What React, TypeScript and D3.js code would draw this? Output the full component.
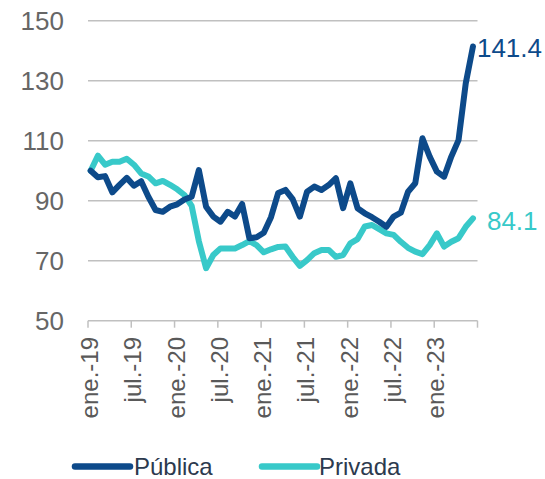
import React from "react";
import * as d3 from "d3";

const publica = [100, 97.8, 98.2, 92.8, 95.3, 97.6, 95, 96.5, 91.3, 86.9,
  86.3, 88, 88.8, 90.4, 91.3, 100.2, 88, 84.7, 83, 86.3,
  84.7, 88.9, 77.5, 77.8, 79.3, 84.5, 92.6, 93.6, 90.5, 84.7,
  93, 94.7, 93.6, 95.2, 97.5, 87.5, 95.8, 87.5, 85.8, 84.5,
  83, 81.3, 84.7, 86, 93, 95.8, 110.8, 104.7, 99.7, 98,
  104.7, 110.2, 129.1, 141.4];
const privada = [100, 105, 102, 103, 103, 104, 102, 99.1, 98.1, 95.8,
  96.6, 95.3, 93.8, 91.9, 88.3, 76.5, 67.5, 71.9, 74.1, 74.1,
  74.1, 75.2, 76.5, 75.2, 72.8, 73.8, 74.6, 74.7, 71.3, 68.3,
  70.2, 72.5, 73.6, 73.6, 71.3, 71.9, 75.8, 77.2, 81.4, 81.9,
  80.5, 79.1, 78.6, 76.3, 74.3, 73, 72.2, 75.2, 79.1, 74.7,
  76.3, 77.5, 81.3, 84.1];
const tickLabels = ["ene.-19", "jul.-19", "ene.-20", "jul.-20", "ene.-21", "jul.-21", "ene.-22", "jul.-22", "ene.-23"];
const yTicks = [50, 70, 90, 110, 130, 150];
const seriesNames = ["Pública", "Privada"];

const C_PUB = "#0d4a8a";
const C_PRI = "#38c9c9";
const FONT = "Liberation Sans, Arial, sans-serif";

export default function App() {
  const x = d3.scaleLinear().domain([0, 54]).range([88, 477.5]);
  const y = d3.scaleLinear().domain([50, 150]).range([320.7, 20.7]);
  const line = d3.line<number>().x((_, i) => x(i + 0.37)).y((d) => y(d));
  const tickIdx = d3.range(0, 55, 6);
  const lastI = publica.length - 1;

  return (
    <svg width={545} height={479} style={{ position: "absolute", left: 0, top: 0, background: "#fff" }} fontFamily={FONT}>
      {yTicks.map((t) => (
        <g key={t}>
          <line x1={x(0)} x2={x(54)} y1={y(t)} y2={y(t)} stroke="#c0c0c0" strokeWidth={1.5} />
          <text x={64} y={y(t)} dy="0.36em" textAnchor="end" fontSize={26} fill="#666">{t}</text>
        </g>
      ))}
      {tickIdx.map((m) => (
        <line key={m} x1={x(m)} x2={x(m)} y1={y(50)} y2={y(50) + 7} stroke="#c0c0c0" strokeWidth={1.5} />
      ))}
      {tickLabels.map((l, k) => (
        <text key={l} transform={`translate(${x(k * 6) + 10},337) rotate(-90)`} textAnchor="end" fontSize={24} fill="#595959">{l}</text>
      ))}
      <path d={line(privada) || ""} fill="none" stroke={C_PRI} strokeWidth={6} strokeLinejoin="round" strokeLinecap="round" />
      <path d={line(publica) || ""} fill="none" stroke={C_PUB} strokeWidth={6} strokeLinejoin="round" strokeLinecap="round" />
      <text x={x(lastI + 0.37) + 4} y={y(publica[lastI])} dy="0.42em" fontSize={26} fill={C_PUB}>{publica[lastI].toFixed(1)}</text>
      <text x={x(lastI + 0.37) + 14} y={y(privada[lastI])} dy="0.45em" fontSize={26} fill={C_PRI}>{privada[lastI].toFixed(1)}</text>
      <g>
        <line x1={75} x2={130} y1={466.5} y2={466.5} stroke={C_PUB} strokeWidth={6.5} strokeLinecap="round" />
        <text x={134} y={475} fontSize={24} fill="#2c3a4e">{seriesNames[0]}</text>
        <line x1={262} x2={317} y1={466.5} y2={466.5} stroke={C_PRI} strokeWidth={6.5} strokeLinecap="round" />
        <text x={319} y={475} fontSize={24} fill="#2c3a4e">{seriesNames[1]}</text>
      </g>
    </svg>
  );
}
